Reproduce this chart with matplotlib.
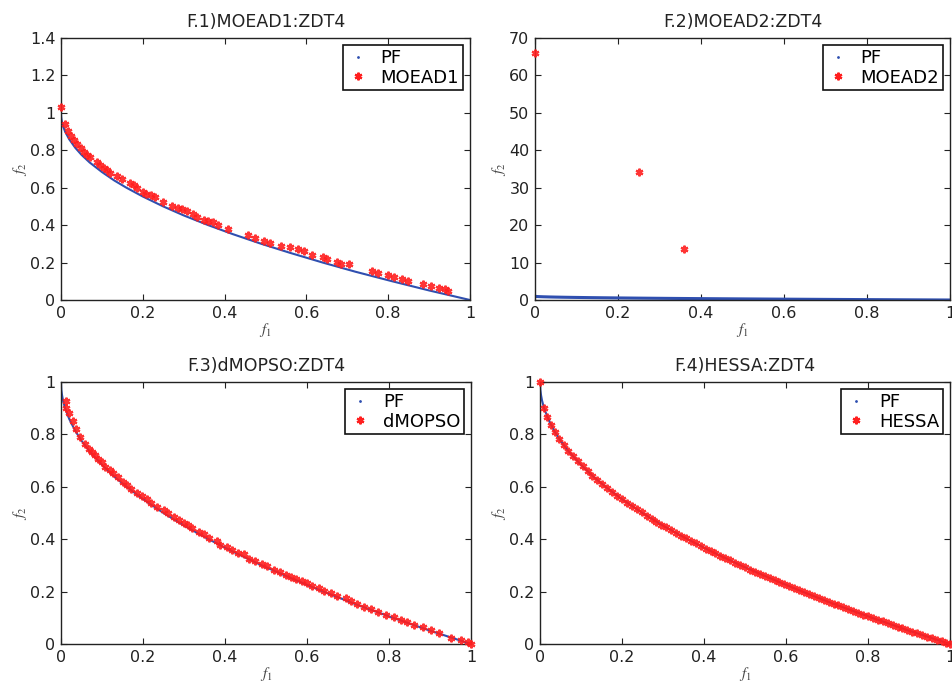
import matplotlib
matplotlib.use("Agg")
import matplotlib.pyplot as plt
from matplotlib.lines import Line2D

plt.rcParams["font.family"] = ["DejaVu Sans"]
plt.rcParams["mathtext.fontset"] = "stix"

# True Pareto front of ZDT4 (sampled along the curve)
pf_f1 = [0, 0.0004, 0.001, 0.0025, 0.005, 0.01, 0.02, 0.035, 0.05, 0.07, 0.1, 0.13,
         0.16, 0.2, 0.25, 0.3, 0.36, 0.42, 0.49, 0.56, 0.64, 0.72, 0.81, 0.9, 1.0]
pf_f2 = [1.0, 0.98, 0.968, 0.95, 0.929, 0.9, 0.859, 0.813, 0.776, 0.735, 0.684, 0.639,
         0.6, 0.553, 0.5, 0.452, 0.4, 0.352, 0.3, 0.252, 0.2, 0.151, 0.1, 0.051, 0.0]

# MOEAD1 solutions
moead1_f1 = [0.0, 0.009, 0.018, 0.025, 0.032, 0.040, 0.048, 0.056, 0.064, 0.071,
             0.087, 0.095, 0.104, 0.112, 0.120, 0.136, 0.148, 0.169, 0.179, 0.187,
             0.200, 0.209, 0.219, 0.230, 0.250, 0.271, 0.287, 0.297, 0.307, 0.322,
             0.332, 0.350, 0.360, 0.372, 0.385, 0.408, 0.458, 0.474, 0.496, 0.511,
             0.538, 0.560, 0.580, 0.594, 0.613, 0.640, 0.650, 0.674, 0.684, 0.704,
             0.760, 0.776, 0.800, 0.814, 0.833, 0.849, 0.886, 0.904, 0.925, 0.939, 0.947]
moead1_f2 = [1.032, 0.943, 0.902, 0.875, 0.857, 0.836, 0.813, 0.792, 0.777, 0.765,
             0.735, 0.720, 0.708, 0.694, 0.681, 0.662, 0.644, 0.623, 0.612, 0.600,
             0.578, 0.569, 0.559, 0.548, 0.523, 0.502, 0.489, 0.484, 0.477, 0.459,
             0.445, 0.430, 0.423, 0.415, 0.400, 0.382, 0.345, 0.331, 0.315, 0.304,
             0.288, 0.281, 0.270, 0.262, 0.240, 0.228, 0.217, 0.205, 0.192, 0.190,
             0.155, 0.146, 0.132, 0.121, 0.110, 0.103, 0.084, 0.075, 0.066, 0.060, 0.050]

# MOEAD2 solutions
moead2_f1 = [0.0, 0.25, 0.36]
moead2_f2 = [66.0, 34.2, 13.5]

# dMOPSO solutions
dmopso_f1 = [0.011, 0.012, 0.020, 0.029, 0.037, 0.046, 0.059, 0.069, 0.075, 0.083,
             0.091, 0.099, 0.108, 0.120, 0.128, 0.138, 0.151, 0.162, 0.170, 0.185,
             0.197, 0.209, 0.219, 0.234, 0.250, 0.262, 0.275, 0.287, 0.299, 0.309,
             0.319, 0.336, 0.348, 0.360, 0.381, 0.389, 0.405, 0.417, 0.431, 0.446,
             0.458, 0.474, 0.491, 0.503, 0.519, 0.535, 0.548, 0.560, 0.572, 0.588,
             0.601, 0.613, 0.629, 0.641, 0.658, 0.674, 0.694, 0.707, 0.723, 0.739,
             0.755, 0.772, 0.792, 0.813, 0.829, 0.845, 0.861, 0.882, 0.902, 0.923,
             0.951, 0.976, 0.992, 1.0]
dmopso_f2 = [0.928, 0.902, 0.881, 0.851, 0.819, 0.791, 0.765, 0.746, 0.732, 0.721,
             0.708, 0.693, 0.676, 0.664, 0.654, 0.638, 0.619, 0.605, 0.591, 0.575,
             0.566, 0.552, 0.539, 0.524, 0.511, 0.501, 0.486, 0.473, 0.463, 0.454,
             0.443, 0.429, 0.419, 0.404, 0.393, 0.378, 0.372, 0.357, 0.349, 0.343,
             0.326, 0.315, 0.306, 0.296, 0.283, 0.273, 0.264, 0.255, 0.247, 0.242,
             0.232, 0.222, 0.213, 0.204, 0.194, 0.184, 0.175, 0.166, 0.154, 0.143,
             0.133, 0.123, 0.112, 0.103, 0.093, 0.084, 0.074, 0.065, 0.055, 0.042,
             0.023, 0.014, 0.006, 0.0]

# HESSA solutions
hessa_f1 = [0.0, 0.010, 0.018, 0.027, 0.037, 0.047, 0.058, 0.069, 0.080, 0.092,
            0.104, 0.116, 0.128, 0.140, 0.152, 0.164, 0.176, 0.188, 0.200, 0.212,
            0.224, 0.236, 0.248, 0.260, 0.272, 0.284, 0.296, 0.308, 0.320, 0.332,
            0.344, 0.356, 0.368, 0.380, 0.392, 0.404, 0.416, 0.428, 0.440, 0.452,
            0.464, 0.476, 0.488, 0.500, 0.512, 0.524, 0.536, 0.548, 0.560, 0.572,
            0.584, 0.596, 0.608, 0.620, 0.632, 0.644, 0.656, 0.668, 0.680, 0.692,
            0.704, 0.716, 0.728, 0.740, 0.752, 0.764, 0.776, 0.788, 0.800, 0.812,
            0.824, 0.836, 0.848, 0.860, 0.872, 0.884, 0.896, 0.908, 0.920, 0.932,
            0.944, 0.956, 0.968, 0.980, 0.990, 1.000]
hessa_f2 = [1.000, 0.900, 0.866, 0.836, 0.808, 0.783, 0.759, 0.737, 0.717, 0.697,
            0.678, 0.659, 0.642, 0.626, 0.610, 0.595, 0.580, 0.566, 0.553, 0.540,
            0.527, 0.514, 0.502, 0.490, 0.478, 0.467, 0.456, 0.445, 0.434, 0.424,
            0.413, 0.403, 0.393, 0.384, 0.374, 0.364, 0.355, 0.346, 0.337, 0.328,
            0.319, 0.310, 0.301, 0.293, 0.284, 0.276, 0.268, 0.260, 0.252, 0.244,
            0.236, 0.228, 0.220, 0.213, 0.205, 0.198, 0.190, 0.183, 0.175, 0.168,
            0.161, 0.154, 0.147, 0.140, 0.133, 0.126, 0.119, 0.112, 0.106, 0.099,
            0.092, 0.086, 0.079, 0.073, 0.066, 0.060, 0.053, 0.047, 0.041, 0.035,
            0.028, 0.022, 0.016, 0.010, 0.005, 0.000]

titles = ["F.1)MOEAD1:ZDT4", "F.2)MOEAD2:ZDT4", "F.3)dMOPSO:ZDT4", "F.4)HESSA:ZDT4"]
names = ["MOEAD1", "MOEAD2", "dMOPSO", "HESSA"]
sols = [(moead1_f1, moead1_f2), (moead2_f1, moead2_f2),
        (dmopso_f1, dmopso_f2), (hessa_f1, hessa_f2)]
ylims = [(0, 1.4), (0, 70), (0, 1), (0, 1)]
yticks = [[0, 0.2, 0.4, 0.6, 0.8, 1, 1.2, 1.4], [0, 10, 20, 30, 40, 50, 60, 70],
          [0, 0.2, 0.4, 0.6, 0.8, 1], [0, 0.2, 0.4, 0.6, 0.8, 1]]
xticks = [0, 0.2, 0.4, 0.6, 0.8, 1]

W, H = 952, 684
boxes = [(61, 38, 470, 300), (535, 38, 950, 300),
         (61, 382, 471, 644), (540, 382, 950, 644)]

BLUE = "#2f4fb0"
RED = "#ff1f1f"
STAR = dict(linestyle="none", marker=(6, 2, 0), markersize=5.5,
            markeredgewidth=1.6, color=RED)

fig = plt.figure(figsize=(W / 100, H / 100), dpi=100)

for i in range(4):
    x0, y0, x1, y1 = boxes[i]
    ax = fig.add_axes([x0 / W, (H - y1) / H, (x1 - x0) / W, (y1 - y0) / H])
    lw_pf = 2.2 if i == 1 else 1.5
    ax.plot(pf_f1, pf_f2, color=BLUE, lw=lw_pf, zorder=2)
    sx, sy = sols[i]
    ax.plot(sx, sy, alpha=0.9, zorder=3, clip_on=False, **STAR)
    ax.set_xlim(0, 1)
    ax.set_ylim(*ylims[i])
    ax.set_xticks(xticks)
    ax.set_xticklabels([f"{v:g}" for v in xticks])
    ax.set_yticks(yticks[i])
    ax.set_yticklabels([f"{v:g}" for v in yticks[i]])
    ax.tick_params(direction="in", length=4, width=0.8, top=True, right=True,
                   labelsize=11.5, pad=4, colors="#222222")
    for sp in ax.spines.values():
        sp.set_linewidth(1.0)
        sp.set_color("#222222")
    ax.set_title(titles[i], fontsize=12.5, pad=8, color="#222222")
    ax.set_xlabel("$f_1$", fontsize=11, labelpad=0, color="#444444")
    ax.set_ylabel("$f_2$", fontsize=11, labelpad=1, color="#444444")
    handles = [Line2D([], [], linestyle="none", marker=".", markersize=2, color=BLUE),
               Line2D([], [], **STAR)]
    leg = ax.legend(handles, ["PF", names[i]], loc="upper right", fontsize=13,
                    fancybox=False, framealpha=1, edgecolor="#111111",
                    handlelength=1.3, handletextpad=0.6, borderpad=0.2,
                    labelspacing=0.1, borderaxespad=0.4)
    leg.get_frame().set_linewidth(1.2)

fig.savefig("out.png", dpi=100)
